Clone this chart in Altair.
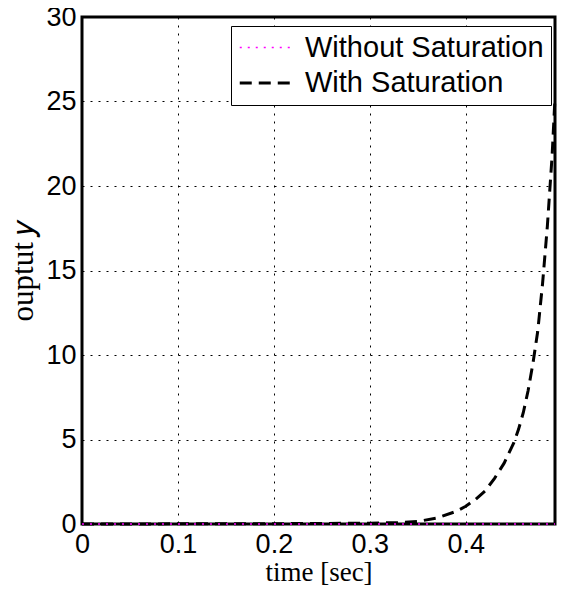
import altair as alt
import pandas as pd

# time samples [sec]
t = [0.0, 0.05, 0.1, 0.15, 0.2, 0.25, 0.3, 0.33, 0.35, 0.37, 0.39, 0.40, 0.41,
     0.42, 0.43, 0.44, 0.45, 0.455, 0.46, 0.465, 0.47, 0.475, 0.48, 0.485, 0.49, 0.493]
# output with saturation
y_sat = [0.0, 0.0, 0.01, 0.01, 0.02, 0.03, 0.05, 0.08, 0.15, 0.35, 0.75, 1.05, 1.45,
         1.95, 2.7, 3.6, 4.8, 5.6, 6.6, 7.9, 9.5, 11.4, 14.2, 17.6, 21.8, 25.2]
# output without saturation
y_nosat = [0.0] * len(t)

series = ["Without Saturation", "With Saturation"]
x_ticks = [0, 0.1, 0.2, 0.3, 0.4]
y_ticks = [0, 5, 10, 15, 20, 25, 30]

df = pd.concat([
    pd.DataFrame({"t": t, "y": y_nosat, "s": series[0]}),
    pd.DataFrame({"t": t, "y": y_sat, "s": series[1]}),
])

base = alt.Chart(df).mark_line().encode(
    x=alt.X("t:Q", scale=alt.Scale(domain=[0, 0.493], nice=False, zero=False),
            axis=alt.Axis(values=x_ticks, title="time [sec]", format="~g",
                          titleFontSize=27, titlePadding=2)),
    y=alt.Y("y:Q", scale=alt.Scale(domain=[0, 30], nice=False),
            axis=alt.Axis(values=y_ticks, title="ouptut 𝑦",
                          titleFontSize=31, titlePadding=6)),
    color=alt.Color("s:N", scale=alt.Scale(domain=series, range=["#FF00FF", "#000000"]),
                    legend=alt.Legend(title=None)),
    strokeDash=alt.StrokeDash("s:N", scale=alt.Scale(domain=series, range=[[2, 6], [12, 7]]),
                              legend=alt.Legend(title=None)),
    strokeWidth=alt.StrokeWidth("s:N", scale=alt.Scale(domain=series, range=[1.5, 3]),
                                legend=alt.Legend(title=None)),
    order=alt.Order("t:Q"),
)

with_sat = base.transform_filter(alt.datum.s == series[1])
without_sat = base.transform_filter(alt.datum.s == series[0])

chart = alt.layer(with_sat, without_sat).properties(
    width=473, height=507,
    autosize=alt.AutoSizeParams(type="none"),
    padding={"left": 74, "top": 9, "right": 2, "bottom": 64},
).configure_view(
    stroke="black", strokeWidth=3
).configure_axis(
    grid=True, gridColor="black", gridDash=[2, 6], gridOpacity=1, gridWidth=1,
    domain=False, ticks=False,
    labelFont="Liberation Sans", labelFontSize=27, labelColor="black",
    titleFont="Liberation Serif", titleFontWeight="normal", titleColor="black",
    labelFlush=False, labelOverlap=False,
).configure_axisX(
    labelPadding=7,
).configure_axisY(
    labelPadding=6,
).configure_legend(
    orient="none", legendX=149, legendY=9,
    fillColor="white", strokeColor="black", padding=7,
    symbolType="M-1,0H3", symbolSize=702, symbolStrokeWidth=2,
    labelFont="Liberation Sans", labelFontSize=29, labelColor="black",
    labelLimit=400, labelOffset=37, rowPadding=5, cornerRadius=0,
)

chart.save("out.html", embed_options={"renderer": "svg", "actions": False})
